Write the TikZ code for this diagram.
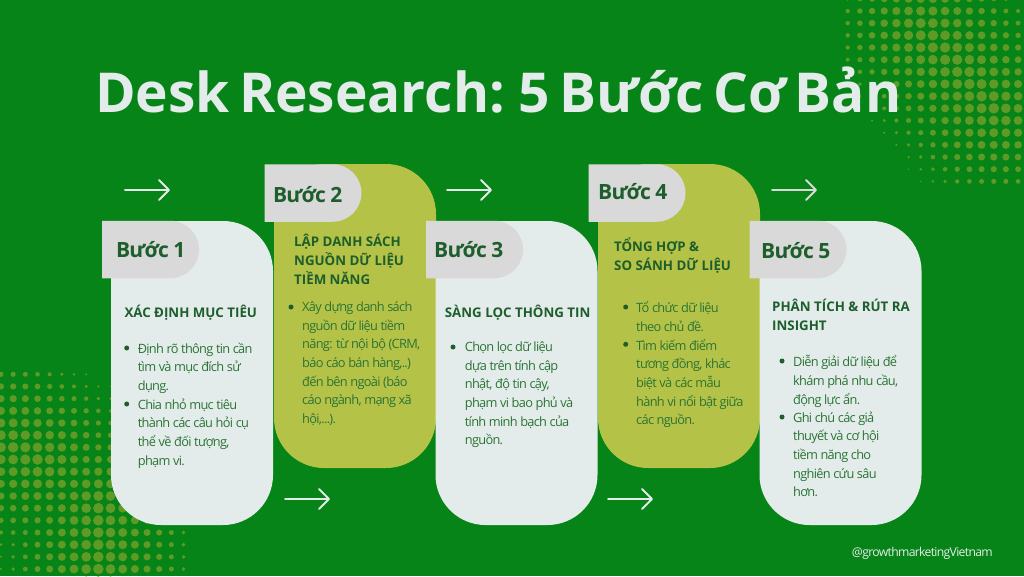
\documentclass[tikz,border=0pt]{standalone}
\usepackage{fontspec}
\setmainfont{Open Sans}
\newfontfamily\titlefont[WordSpace=0.65]{Open Sans}
\newfontfamily\bodyfont[LetterSpace=-5.5]{Open Sans}
\newfontfamily\tagfont[LetterSpace=-4]{Open Sans}
\usetikzlibrary{arrows.meta,shapes.misc}
\definecolor{bggreen}{HTML}{068417}
\definecolor{dotgreen}{HTML}{5E9A25}
\definecolor{cardpale}{HTML}{E3ECEA}
\definecolor{cardolive}{HTML}{B5C248}
\definecolor{tagrey}{HTML}{D9D9D9}
\definecolor{inkdark}{HTML}{1D5E2C}
\definecolor{inkbody}{HTML}{2B7435}
% distance of a point to a segment: px,py,ax,ay,bx,by,result
\newcommand{\segdist}[7]{%
  \pgfmathsetmacro{\segt}{max(0,min(1,(((#1-#3)/10)*((#5-#3)/10)+((#2-#4)/10)*((#6-#4)/10))/(((#5-#3)/10)*((#5-#3)/10)+((#6-#4)/10)*((#6-#4)/10))))}%
  \pgfmathsetmacro{#7}{veclen(#1-#3-\segt*(#5-#3),#2-#4-\segt*(#6-#4))}%
}
\tikzset{
  card/.style={rectangle,rounded corners=50pt,minimum width=162pt,minimum height=304pt,inner sep=0pt},
  tagbox/.style={rounded rectangle,rounded rectangle west arc=none,fill=tagrey,minimum width=97pt,minimum height=57.5pt,inner sep=0pt},
  taglabel/.style={anchor=west,inner sep=0pt,text=inkdark,font=\tagfont\bfseries\fontsize{21}{24}\selectfont},
  headtxt/.style={anchor=north west,inner sep=0pt,yshift=7.6pt,align=left,text=inkdark,
    font=\bfseries\fontsize{13.3}{18.7}\selectfont,execute at begin node=\strut},
  bodytxt/.style={anchor=north west,inner sep=0pt,yshift=5.6pt,align=left,text=inkbody,
    font=\bodyfont\fontsize{12.8}{18.7}\selectfont,execute at begin node=\strut},
  bulletdot/.style={circle,fill=inkdark,inner sep=0pt,minimum size=5pt},
  flow/.style={line width=2pt,cardpale,line cap=round,-{Straight Barb[length=10pt,width=20pt,line width=2pt,round]}},
}
\begin{document}
\begin{tikzpicture}[x=1pt,y=-1pt]
\useasboundingbox (0,0) rectangle (1024,576);
\fill[bggreen] (0,0) rectangle (1024,576);

% halftone dots
\begin{scope}
\clip (0,0) rectangle (1024,576);
\foreach \i in {0,...,15}{
  \foreach \j in {-1,...,14}{
    \pgfmathsetmacro{\dotx}{847.7+12.17*\i}
    \pgfmathsetmacro{\doty}{11+12.17*\j}
    \segdist{\dotx}{\doty}{925}{30}{994}{110}{\dista}
    \pgfmathsetmacro{\dotr}{5.3*pow(max(1-\dista/110,0.01),0.7)}
    \pgfmathparse{\dotr>0.7 ? 1 : 0}
    \ifnum\pgfmathresult=1 \fill[dotgreen] (\dotx,\doty) circle[radius=\dotr pt]; \fi
  }
}
\foreach \i in {0,...,15}{
  \foreach \j in {0,...,17}{
    \pgfmathsetmacro{\dotx}{1+12.17*\i}
    \pgfmathsetmacro{\doty}{374.3+12.17*\j}
    \segdist{\dotx}{\doty}{10}{445}{40}{462}{\dista}
    \segdist{\dotx}{\doty}{99}{505}{99}{570}{\distb}
    \pgfmathsetmacro{\dotr}{5.3*pow(max(1-min(\dista,\distb)/110,0.01),0.7)}
    \pgfmathparse{\dotr>0.7 ? 1 : 0}
    \ifnum\pgfmathresult=1 \fill[dotgreen] (\dotx,\doty) circle[radius=\dotr pt]; \fi
  }
}
\end{scope}

\node[anchor=base west,inner sep=0pt,text=cardpale,font=\titlefont\bfseries\fontsize{55}{64}\selectfont] (title) at (95,112) {Desk Research: 5 Bước Cơ Bản};

% arrows
\coordinate (a1s) at (125,190); \coordinate (a1e) at (170,190);
\coordinate (a2s) at (285,499); \coordinate (a2e) at (330,499);
\coordinate (a3s) at (447,190); \coordinate (a3e) at (492,190);
\coordinate (a4s) at (608,499); \coordinate (a4e) at (653,499);
\coordinate (a5s) at (772,190); \coordinate (a5e) at (817,190);
\foreach \n in {1,...,4}
  \draw[flow] (a\n s)--(a\n e);
\draw[flow,tagrey] (a5s)--(a5e);

% cards
\node[card,fill=cardolive] (cardB) at (355,316) {};
\node[card,fill=cardolive] (cardD) at (679,316) {};
\node[card,fill=cardpale] (cardA) at (192,373) {};
\node[card,fill=cardpale] (cardC) at (516.5,373) {};
\node[card,fill=cardpale] (cardE) at (840.5,373) {};

\node[tagbox] (tagA) at (150.5,249.5) {};
\node[tagbox] (tagB) at (313,193) {};
\node[tagbox] (tagC) at (474.5,249.5) {};
\node[tagbox] (tagD) at (637,193) {};
\node[tagbox] (tagE) at (798,249.5) {};
\node[taglabel] (labA) at (116,250) {Bước 1};
\node[taglabel] (labB) at (273,195) {Bước 2};
\node[taglabel] (labC) at (434,250) {Bước 3};
\node[taglabel] (labD) at (598,192) {Bước 4};
\node[taglabel] (labE) at (761,251) {Bước 5};

% step 1
\node[headtxt] (headA) at (124.3,312) {XÁC ĐỊNH MỤC TIÊU};
\node[bulletdot] (dotA1) at (126.7,348) {};
\node[bodytxt] (textA1) at (137.7,348) {Định rõ thông tin cần\\tìm và mục đích sử\\dụng.};
\node[bulletdot] (dotA2) at (126.7,404) {};
\node[bodytxt] (textA2) at (137.7,404) {Chia nhỏ mục tiêu\\thành các câu hỏi cụ\\thể về đối tượng,\\phạm vi.};

% step 2
\node[headtxt] (headB) at (294,242) {LẬP DANH SÁCH\\NGUỒN DỮ LIỆU\\TIỀM NĂNG};
\node[bulletdot] (dotB1) at (291,307) {};
\node[bodytxt] (textB1) at (302,307) {Xây dựng danh sách\\nguồn dữ liệu tiềm\\năng: từ nội bộ (CRM,\\báo cáo bán hàng,..)\\đến bên ngoài (báo\\cáo ngành, mạng xã\\hội,...).};

% step 3
\node[headtxt] (headC) at (444.7,312) {SÀNG LỌC THÔNG TIN};
\node[bulletdot] (dotC1) at (453,347) {};
\node[bodytxt] (textC1) at (464.7,347) {Chọn lọc dữ liệu\\dựa trên tính cập\\nhật, độ tin cậy,\\phạm vi bao phủ và\\tính minh bạch của\\nguồn.};

% step 4
\node[headtxt] (headD) at (614,245) {TỔNG HỢP \&\\SO SÁNH DỮ LIỆU};
\node[bulletdot] (dotD1) at (625.7,307) {};
\node[bodytxt] (textD1) at (636,307) {Tổ chức dữ liệu\\theo chủ đề.};
\node[bulletdot] (dotD2) at (625.7,344.3) {};
\node[bodytxt] (textD2) at (636,344.3) {Tìm kiếm điểm\\tương đồng, khác\\biệt và các mẫu\\hành vi nổi bật giữa\\các nguồn.};

% step 5
\node[headtxt] (headE) at (772,307) {PHÂN TÍCH \& RÚT RA\\INSIGHT};
\node[bulletdot] (dotE1) at (782,361) {};
\node[bodytxt] (textE1) at (793,361) {Diễn giải dữ liệu để\\khám phá nhu cầu,\\động lực ẩn.};
\node[bulletdot] (dotE2) at (782,417) {};
\node[bodytxt] (textE2) at (793,417) {Ghi chú các giả\\thuyết và cơ hội\\tiềm năng cho\\nghiên cứu sâu\\hơn.};

\node[anchor=east,inner sep=0pt,text=cardpale,font=\bodyfont\fontsize{12.2}{15}\selectfont] (handle) at (993,553.5) {@growthmarketingVietnam};
\end{tikzpicture}
\end{document}
